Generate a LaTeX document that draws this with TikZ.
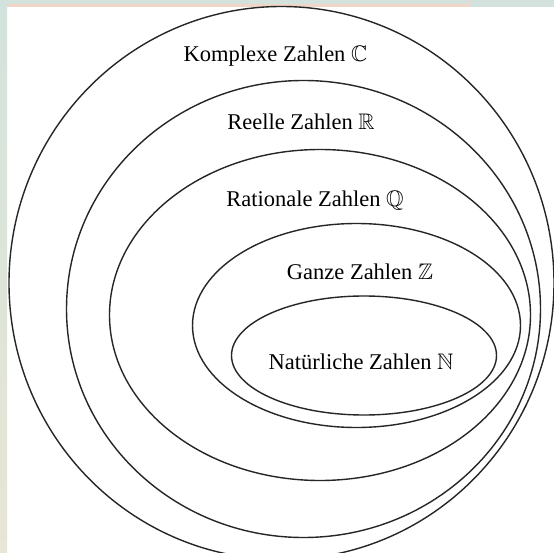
\documentclass[tikz,border=0pt]{standalone}
\usepackage{amssymb}
\usepackage{fontspec}
\setmainfont{Liberation Serif}
\begin{document}
\begin{tikzpicture}[x=1pt,y=-1pt,
  setline/.style={draw=black!85,line width=1.4pt},
  lbl/.style={inner sep=0pt,font=\fontsize{22.5}{26}\selectfont}]
\definecolor{bgteal}{HTML}{D3E2DC}
\definecolor{bgbeige}{HTML}{E8E6D6}
\definecolor{peach}{HTML}{F0D6C6}
\useasboundingbox (0,0) rectangle (554,553);
\fill[white] (0,0) rectangle (554,553);
\fill[bgteal] (0,0) rectangle (554,7);
\shade[top color=bgteal,bottom color=bgbeige] (0,0) rectangle (7,553);
\fill[peach] (7,4.5) rectangle (469,7);
\fill[peach] (467,0) rectangle (469.5,7);
\begin{scope}
\clip (0,0) rectangle (554,553);
\draw[setline] (281.5,283) ellipse [x radius=272.5, y radius=276.5];
\draw[setline] (303.5,309) ellipse [x radius=237, y radius=228.5];
\draw[setline] (320,315) ellipse [x radius=210.5, y radius=165.5];
\draw[setline] (356.5,325.5) ellipse [x radius=164, y radius=102];
\draw[setline] (364,355.5) ellipse [x radius=132.5, y radius=59.5];
\end{scope}
\node[lbl] (c) at (275.5,56) {Komplexe Zahlen $\mathbb{C}$};
\node[lbl] (r) at (301,122) {Reelle Zahlen $\mathbb{R}$};
\node[lbl] (q) at (315,201) {Rationale Zahlen $\mathbb{Q}$};
\node[lbl] (z) at (360,272) {Ganze Zahlen $\mathbb{Z}$};
\node[lbl] (n) at (361,362) {Natürliche Zahlen $\mathbb{N}$};
\end{tikzpicture}
\end{document}
